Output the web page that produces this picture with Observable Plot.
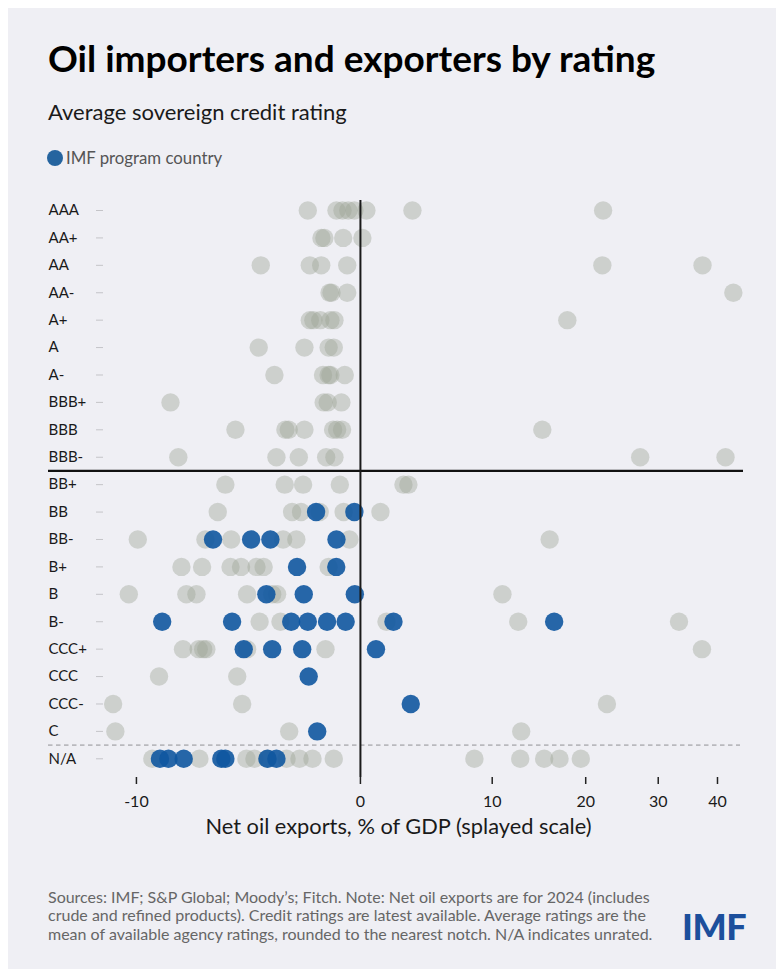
<!DOCTYPE html>
<html>
<head>
<meta charset="utf-8">
<script src="https://cdn.jsdelivr.net/npm/d3@7"></script>
<script src="https://cdn.jsdelivr.net/npm/@observablehq/plot@0.6"></script>
<style>
  html, body { margin: 0; padding: 0; background: #ffffff; }
  body { width: 776px; height: 969px; position: relative; overflow: hidden; font-family: Lato, "Open Sans", sans-serif; }
  #panel { position: absolute; left: 8px; top: 8px; right: 0; bottom: 0; background: #efeff4; }
  .abs { position: absolute; white-space: nowrap; }
  #title { left: 48px; top: 36px; font-size: 37px; font-weight: 700; color: #000; line-height: 44px; }
  #subtitle { left: 48px; top: 99px; font-size: 22px; color: #1a1a1a; line-height: 26px; }
  #legend { left: 47px; top: 148px; font-size: 16.8px; color: #555; line-height: 20px; display: flex; align-items: center; }
  #legend .swatch { width: 16px; height: 16px; border-radius: 50%; background: #25649f; margin-right: 3px; }
  #chart { left: 0; top: 180px; }
  #notes { left: 48px; top: 888px; font-size: 16px; color: #666; line-height: 18.3px; }
  #logo { left: 682px; top: 906px; font-size: 36px; font-weight: 900; color: #1c4f9c; line-height: 40px; letter-spacing: -0.5px; }
</style>
</head>
<body>
<div id="panel"></div>
<div id="title" class="abs">Oil importers and exporters by rating</div>
<div id="subtitle" class="abs">Average sovereign credit rating</div>
<div id="legend" class="abs"><span class="swatch"></span><span>IMF program country</span></div>
<div id="chart" class="abs"></div>
<div id="notes" class="abs">Sources: IMF; S&amp;P Global; Moody’s; Fitch. Note: Net oil exports are for 2024 (includes<br>crude and refined products). Credit ratings are latest available. Average ratings are the<br>mean of available agency ratings, rounded to the nearest notch. N/A indicates unrated.</div>
<div id="logo" class="abs">IMF</div>
<script>
// Rating notches, best to worst, with unrated countries last
const ratings = ["AAA", "AA+", "AA", "AA-", "A+", "A", "A-", "BBB+", "BBB", "BBB-",
  "BB+", "BB", "BB-", "B+", "B", "B-", "CCC+", "CCC", "CCC-", "C", "N/A"];

// Net oil exports, % of GDP, for countries without an IMF program: [rating, value]
const otherCountries = [
  ["AAA", -2.35], ["AAA", -1.07], ["AAA", -0.8], ["AAA", -0.54], ["AAA", -0.27], ["AAA", 0.37], ["AAA", 3.47], ["AAA", 22.2],
  ["AA+", -1.74], ["AA+", -1.61], ["AA+", -0.77], ["AA+", 0.12],
  ["AA", -4.45], ["AA", -2.26], ["AA", -1.75], ["AA", -0.59], ["AA", 22.1], ["AA", 37.3],
  ["AA-", -1.38], ["AA-", -1.29], ["AA-", -0.59], ["AA-", 43.0],
  ["A+", -2.26], ["A+", -2.1], ["A+", -1.79], ["A+", -1.34], ["A+", -1.16], ["A+", 17.8],
  ["A", -4.54], ["A", -2.5], ["A", -1.42], ["A", -1.19],
  ["A-", -3.84], ["A-", -1.67], ["A-", -1.42], ["A-", -1.34], ["A-", -0.7],
  ["BBB+", -8.48], ["BBB+", -1.64], ["BBB+", -1.46], ["BBB+", -0.85],
  ["BBB", -5.58], ["BBB", -3.35], ["BBB", -3.2], ["BBB", -2.5], ["BBB", -1.22], ["BBB", -1.04], ["BBB", -0.82], ["BBB", 15.0],
  ["BBB-", -8.13], ["BBB-", -3.75], ["BBB-", -2.75], ["BBB-", -1.53], ["BBB-", -1.16], ["BBB-", 27.3], ["BBB-", 41.5],
  ["BB+", -6.03], ["BB+", -3.38], ["BB+", -2.56], ["BB+", -0.92], ["BB+", 2.83], ["BB+", 3.18],
  ["BB", -6.37], ["BB", -3.05], ["BB", -2.65], ["BB", -1.82], ["BB", -0.75], ["BB", 1.27],
  ["BB-", -9.94], ["BB-", -6.92], ["BB-", -5.77], ["BB-", -3.45], ["BB-", -2.86], ["BB-", -0.49], ["BB-", 15.8],
  ["B+", -7.99], ["B+", -7.07], ["B+", -5.8], ["B+", -5.33], ["B+", -4.64], ["B+", -4.32], ["B+", -1.42],
  ["B", -10.34], ["B", -7.77], ["B", -7.32], ["B", -5.06], ["B", -3.94], ["B", -3.72], ["B", 10.96],
  ["B-", -4.5], ["B-", -3.57], ["B-", 1.67], ["B-", 12.5], ["B-", 33.3],
  ["CCC+", -7.92], ["CCC+", -7.22], ["CCC+", -7.02], ["CCC+", -6.88], ["CCC+", -5.06], ["CCC+", -1.56], ["CCC+", 37.2],
  ["CCC", -8.99], ["CCC", -5.5],
  ["CCC-", -11.04], ["CCC-", -5.28], ["CCC-", 22.7],
  ["C", -10.94], ["C", -3.18], ["C", 12.8],
  ["N/A", -9.29], ["N/A", -7.19], ["N/A", -5.09], ["N/A", -4.73], ["N/A", -4.15], ["N/A", -3.3], ["N/A", -2.72],
  ["N/A", -2.14], ["N/A", -1.19], ["N/A", 8.4], ["N/A", 12.7], ["N/A", 15.2], ["N/A", 16.9], ["N/A", 19.4]
];

// IMF program countries: [rating, value]
const programCountries = [
  ["BB", -1.98], ["BB", -0.27],
  ["BB-", -6.58], ["BB-", -4.88], ["BB-", -4.02], ["BB-", -1.07],
  ["B+", -2.83], ["B+", -1.08],
  ["B", -4.2], ["B", -2.53], ["B", -0.25],
  ["B-", -8.85], ["B-", -5.73], ["B-", -3.09], ["B-", -2.35], ["B-", -1.49], ["B-", -0.66], ["B-", 2.14], ["B-", 16.3],
  ["CCC+", -5.21], ["CCC+", -3.94], ["CCC+", -2.6], ["CCC+", 0.98],
  ["CCC", -2.31],
  ["CCC-", 3.35],
  ["C", -1.93],
  ["N/A", -8.95], ["N/A", -8.57], ["N/A", -7.89], ["N/A", -6.21], ["N/A", -6.03], ["N/A", -4.15], ["N/A", -3.75]
];

const xTicks = [-10, 0, 10, 20, 30, 40];
const xExtent = [-11.47, 45];

// Splayed axis: linear for imports, logarithmic compression for exports
const splay = v => v < 0 ? v * 22.4 : 325 * Math.log1p(v / 20);

const dotRadius = 9.2;

const chart = Plot.plot({
  width: 776,
  height: 680,
  marginLeft: 103,
  marginRight: 33,
  marginTop: 20,
  marginBottom: 83,
  style: { background: "transparent", fontFamily: "Lato, 'Open Sans', sans-serif", fontSize: "15px", color: "#1a1a1a" },
  x: { type: "linear", transform: splay, domain: xExtent.map(splay) },
  y: { type: "point", domain: ratings, range: [30, 578.3], padding: 0, round: false, label: null },
  marks: [
    // investment grade / speculative grade divider
    Plot.ruleY(["BBB-"], { dy: 13.7, insetLeft: -55, stroke: "#111", strokeWidth: 2.2 }),
    // rated / unrated divider
    Plot.ruleY(["C"], { dy: 13.7, insetLeft: -55, insetRight: 3, stroke: "#b9b9bd", strokeWidth: 1.6, strokeDasharray: "4.5,3.5" }),
    Plot.axisY({ tickSize: 7, tickFormat: () => "", stroke: "#c4c4c8", strokeWidth: 1 }),
    Plot.axisY({ tickSize: 0, tickPadding: 55, textAnchor: "start", fontSize: 15, fill: "#1a1a1a", label: null }),
    Plot.axisX(xTicks, { tickFormat: d => `${d}`, tickSize: 7, tickPadding: 11, fontSize: 16, stroke: "#222", strokeWidth: 1.5, fill: "#1a1a1a", label: null }),
    Plot.dot(otherCountries, { x: d => d[1], y: d => d[0], r: dotRadius, fill: "#9aa294", fillOpacity: 0.4 }),
    Plot.dot(programCountries, { x: d => d[1], y: d => d[0], r: dotRadius, fill: "#0f56a0", fillOpacity: 0.9 }),
    Plot.ruleX([0], { stroke: "#1a1a1a", strokeWidth: 2 }),
    Plot.text(["Net oil exports, % of GDP (splayed scale)"], { frameAnchor: "bottom", dx: -25, dy: 56, fontSize: 21.8, fill: "#1a1a1a" })
  ]
});
document.getElementById("chart").appendChild(chart);
</script>
</body>
</html>
